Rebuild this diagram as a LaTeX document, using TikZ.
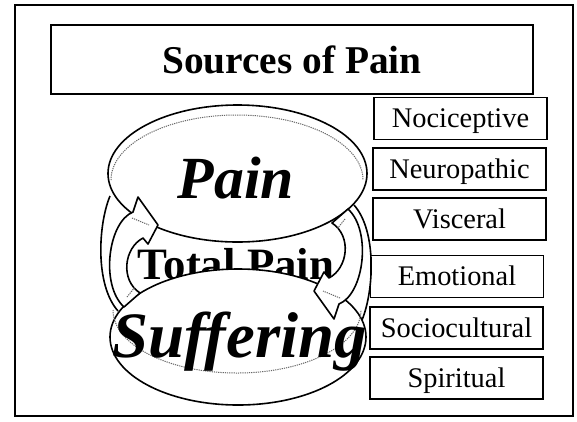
\documentclass[tikz,border=0pt]{standalone}
\usepackage{fontspec}
\setmainfont{Liberation Serif}
\usetikzlibrary{positioning}
\tikzset{
  framebox/.style={draw, line width=1.5bp, inner sep=0pt},
  srcbox/.style={framebox, minimum width=173bp, minimum height=42bp,
    font=\fontsize{28.5}{30}\selectfont, text height=18.5bp, text depth=0pt},
  ribbon/.style={draw, line width=1.6bp, line join=round},
  bevel/.style={draw=black!60, dash pattern=on 1.2bp off 1bp, line width=1bp},
  bigword/.style={font=\fontsize{#1}{#1}\selectfont\bfseries\itshape, inner sep=0pt, anchor=base}
}

\begin{document}
\begin{tikzpicture}[x=1bp, y=-1bp]
        \useasboundingbox (0,0) rectangle (577,421);
        \draw[line width=1.7bp] (15,5) rectangle (573,416);

        % Title
        \node[framebox, minimum width=482bp, minimum height=69bp, font=\fontsize{39.5}{40}\selectfont\bfseries] (title) at (292,59.5) {Sources of Pain};

        % Sources on the right
        \node[srcbox] (noci) at (460.5,118.5) {Nociceptive};
        \node[srcbox] (neuro) at (459.5,169) {Neuropathic};
        \node[srcbox] (visc) at (459.5,219) {Visceral};
        \node[srcbox] (emo) at (457,276.5) {Emotional};
        \node[srcbox] (socio) at (456.5,328) {Sociocultural};
        \node[srcbox] (spirit) at (456.5,378) {Spiritual};

        % Upper disc: Pain
        \draw[line width=1.6bp, fill=white] (237.5,173.5) ellipse [x radius=129.5, y radius=68.5];
        \draw[bevel] (111,180) arc [start angle=180, end angle=360, x radius=126, y radius=65];

        % Total Pain, half hidden by the lower disc
        \node[font=\fontsize{45}{45}\selectfont\bfseries, inner sep=0pt, anchor=base] (total) at (236,279) {Total Pain};

        % Lower disc: Suffering
        \draw[line width=1.6bp, fill=white] (238,337) ellipse [x radius=128, y radius=68];
        \draw[bevel] (113,310) arc [start angle=180, end angle=0, x radius=124, y radius=63];

        % Curved arrows on both sides
        \foreach \ang in {0,180}{
          \begin{scope}[rotate around={\ang:(236,258)}]
            \draw[ribbon] (110,196) .. controls (98,225) and (95,285) .. (118,311);
            \draw[ribbon, fill=white] (124,307) .. controls (100,285) and (108,222) .. (133,212)
                -- (138,197) -- (158,225) -- (148,244) -- (143,238)
                .. controls (124,248) and (120,280) .. (140,293) -- cycle;
            \draw[bevel] (132,218) -- (149,225);
            \draw[bevel] (127,297) -- (135,287);
          \end{scope}
        }

        \node[bigword=60] (pain) at (236,198) {Pain};
        \node[bigword=65] (suff) at (239.5,357) {Suffering};
\end{tikzpicture}
\end{document}
